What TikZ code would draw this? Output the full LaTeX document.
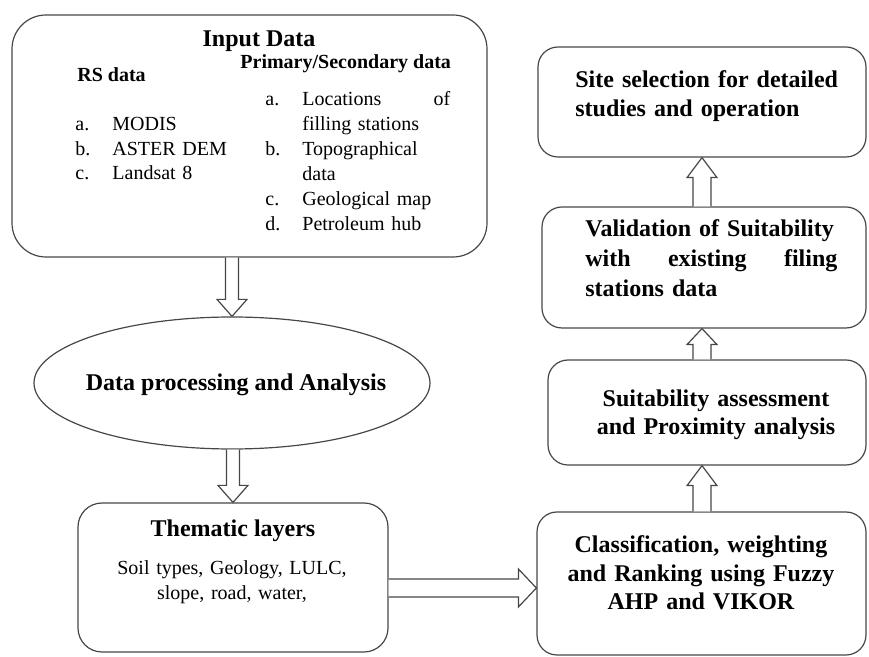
\documentclass[tikz,border=0pt]{standalone}
\usepackage{fontspec}
\setmainfont{Liberation Serif}
\usetikzlibrary{shapes.geometric,calc}
\begin{document}
\begin{tikzpicture}[x=0.5pt,y=-0.5pt,
  box/.style={draw=black!72, line width=0.6pt, rounded corners=#1, inner sep=0pt},
  box/.default=10pt,
  blk/.style={draw=black!72, line width=0.6pt, fill=white, line join=miter},
  hd/.style={inner sep=0pt, font=\bfseries\fontsize{12}{14}\selectfont},
  sub/.style={inner sep=0pt, font=\bfseries\fontsize{10}{12}\selectfont},
  txt/.style={inner sep=0pt, font=\fontsize{10}{12.4}\selectfont},
]
\useasboundingbox (0,0) rectangle (869,657);
% boxes
\node[box=17pt, minimum width=237.5pt, minimum height=121pt] (inp) at (249.5,136) {};
\node[draw=black!72, line width=0.6pt, ellipse, minimum width=198pt, minimum height=66pt, inner sep=0pt] (ell) at (232,383) {};
\node[box=12pt, minimum width=155pt, minimum height=74.5pt] (them) at (233,577.5) {};
\node[box, minimum width=164pt, minimum height=55pt] (site) at (702,102) {};
\node[box, minimum width=162pt, minimum height=60.5pt] (val) at (704,267.5) {};
\node[box, minimum width=159pt, minimum height=52.5pt] (suit) at (707,412.5) {};
\node[box, minimum width=164.5pt, minimum height=71.5pt] (cls) at (701.5,583.5) {};
% input data texts
\node[hd, anchor=base] (tIn) at (259,47) {Input Data};
\node[sub, anchor=base west] (tRS) at (77,82) {RS data};
\node[sub, anchor=base west] (tPS) at (240,69) {Primary/Secondary data};
\node[txt, anchor=base west] (ra) at (75,131) {a.};
\node[txt, anchor=base west] (rb) at (75,156) {b.};
\node[txt, anchor=base west] (rc) at (75,180) {c.};
\node[txt, anchor=base west, text width=70pt, align=left, font=\fontsize{10}{12.25}\selectfont] (ri) at (112,131) {MODIS\\ASTER DEM\\Landsat 8};
\node[txt, anchor=base west] (pa) at (265,106) {a.};
\node[txt, anchor=base west] (pb) at (265,156) {b.};
\node[txt, anchor=base west] (pc) at (265,206) {c.};
\node[txt, anchor=base west] (pd) at (265,231) {d.};
\node[txt, anchor=base west, text width=74pt, align=left, font=\fontsize{10}{12.5}\selectfont] (pi) at (302,106)
  {Locations\hfill of\\filling stations\\Topographical\\data\\Geological map\\Petroleum hub};
% ellipse and thematic
\node[hd, anchor=base] (tEll) at (236,391) {Data processing and Analysis};
\node[hd, anchor=base] (tTh) at (233,537) {Thematic layers};
\node[txt, anchor=base, text width=130pt, align=center, font=\fontsize{10}{12.5}\selectfont] (tThB) at (232,575) {Soil types, Geology, LULC,\\slope, road, water,};
% right column texts
\node[hd, anchor=base west, text width=140pt, align=left, font=\bfseries\fontsize{12}{14.5}\selectfont] (tSite) at (575,88) {Site selection for detailed\\studies and operation};
\node[hd, anchor=base west, text width=126pt, align=left, font=\bfseries\fontsize{12}{15}\selectfont] (tVal) at (585,237) {Validation of Suitability\\with\hfill existing\hfill filing\\stations data};
\node[hd, anchor=base, text width=140pt, align=center] (tSuit) at (716,407) {Suitability assessment\\and Proximity analysis};
\node[hd, anchor=base, text width=150pt, align=center, font=\bfseries\fontsize{12}{14.25}\selectfont] (tCls) at (701,553) {Classification, weighting\\and Ranking using Fuzzy\\AHP and VIKOR};
% block arrows
\coordinate (a1s) at (ell.north |- inp.south);
\draw[blk] ($(a1s)+(-6.5,0)$) -- ($(ell.north)+(-6.5,-17)$) -- ($(ell.north)+(-15,-17)$) -- (ell.north)
  -- ($(ell.north)+(15,-17)$) -- ($(ell.north)+(6.5,-17)$) -- ($(a1s)+(6.5,0)$);
\coordinate (a2s) at (them.north |- ell.south);
\draw[blk] ($(a2s)+(-6.5,0)$) -- ($(them.north)+(-6.5,-17)$) -- ($(them.north)+(-15,-17)$) -- (them.north)
  -- ($(them.north)+(15,-17)$) -- ($(them.north)+(6.5,-17)$) -- ($(a2s)+(6.5,0)$);
\coordinate (h1) at ($(them.east)+(0,10.5)$);
\coordinate (h2) at (cls.west |- h1);
\draw[blk] ($(h1)+(0,-9)$) -- ($(h2)+(-18,-9)$) -- ($(h2)+(-18,-19)$) -- (h2)
  -- ($(h2)+(-18,19)$) -- ($(h2)+(-18,9)$) -- ($(h1)+(0,9)$);
\coordinate (u1s) at (site.south |- cls.north);
\coordinate (u1e) at (site.south |- suit.south);
\draw[blk] ($(u1s)+(-9,0)$) -- ($(u1e)+(-9,20)$) -- ($(u1e)+(-15,20)$) -- (u1e)
  -- ($(u1e)+(15,20)$) -- ($(u1e)+(9,20)$) -- ($(u1s)+(9,0)$);
\coordinate (u2s) at (site.south |- suit.north);
\coordinate (u2e) at (site.south |- val.south);
\draw[blk] ($(u2s)+(-9,0)$) -- ($(u2e)+(-9,16)$) -- ($(u2e)+(-15,16)$) -- (u2e)
  -- ($(u2e)+(15,16)$) -- ($(u2e)+(9,16)$) -- ($(u2s)+(9,0)$);
\coordinate (u3s) at (site.south |- val.north);
\draw[blk] ($(u3s)+(-9,0)$) -- ($(site.south)+(-9,20)$) -- ($(site.south)+(-15,20)$) -- (site.south)
  -- ($(site.south)+(15,20)$) -- ($(site.south)+(9,20)$) -- ($(u3s)+(9,0)$);
\end{tikzpicture}
\end{document}
